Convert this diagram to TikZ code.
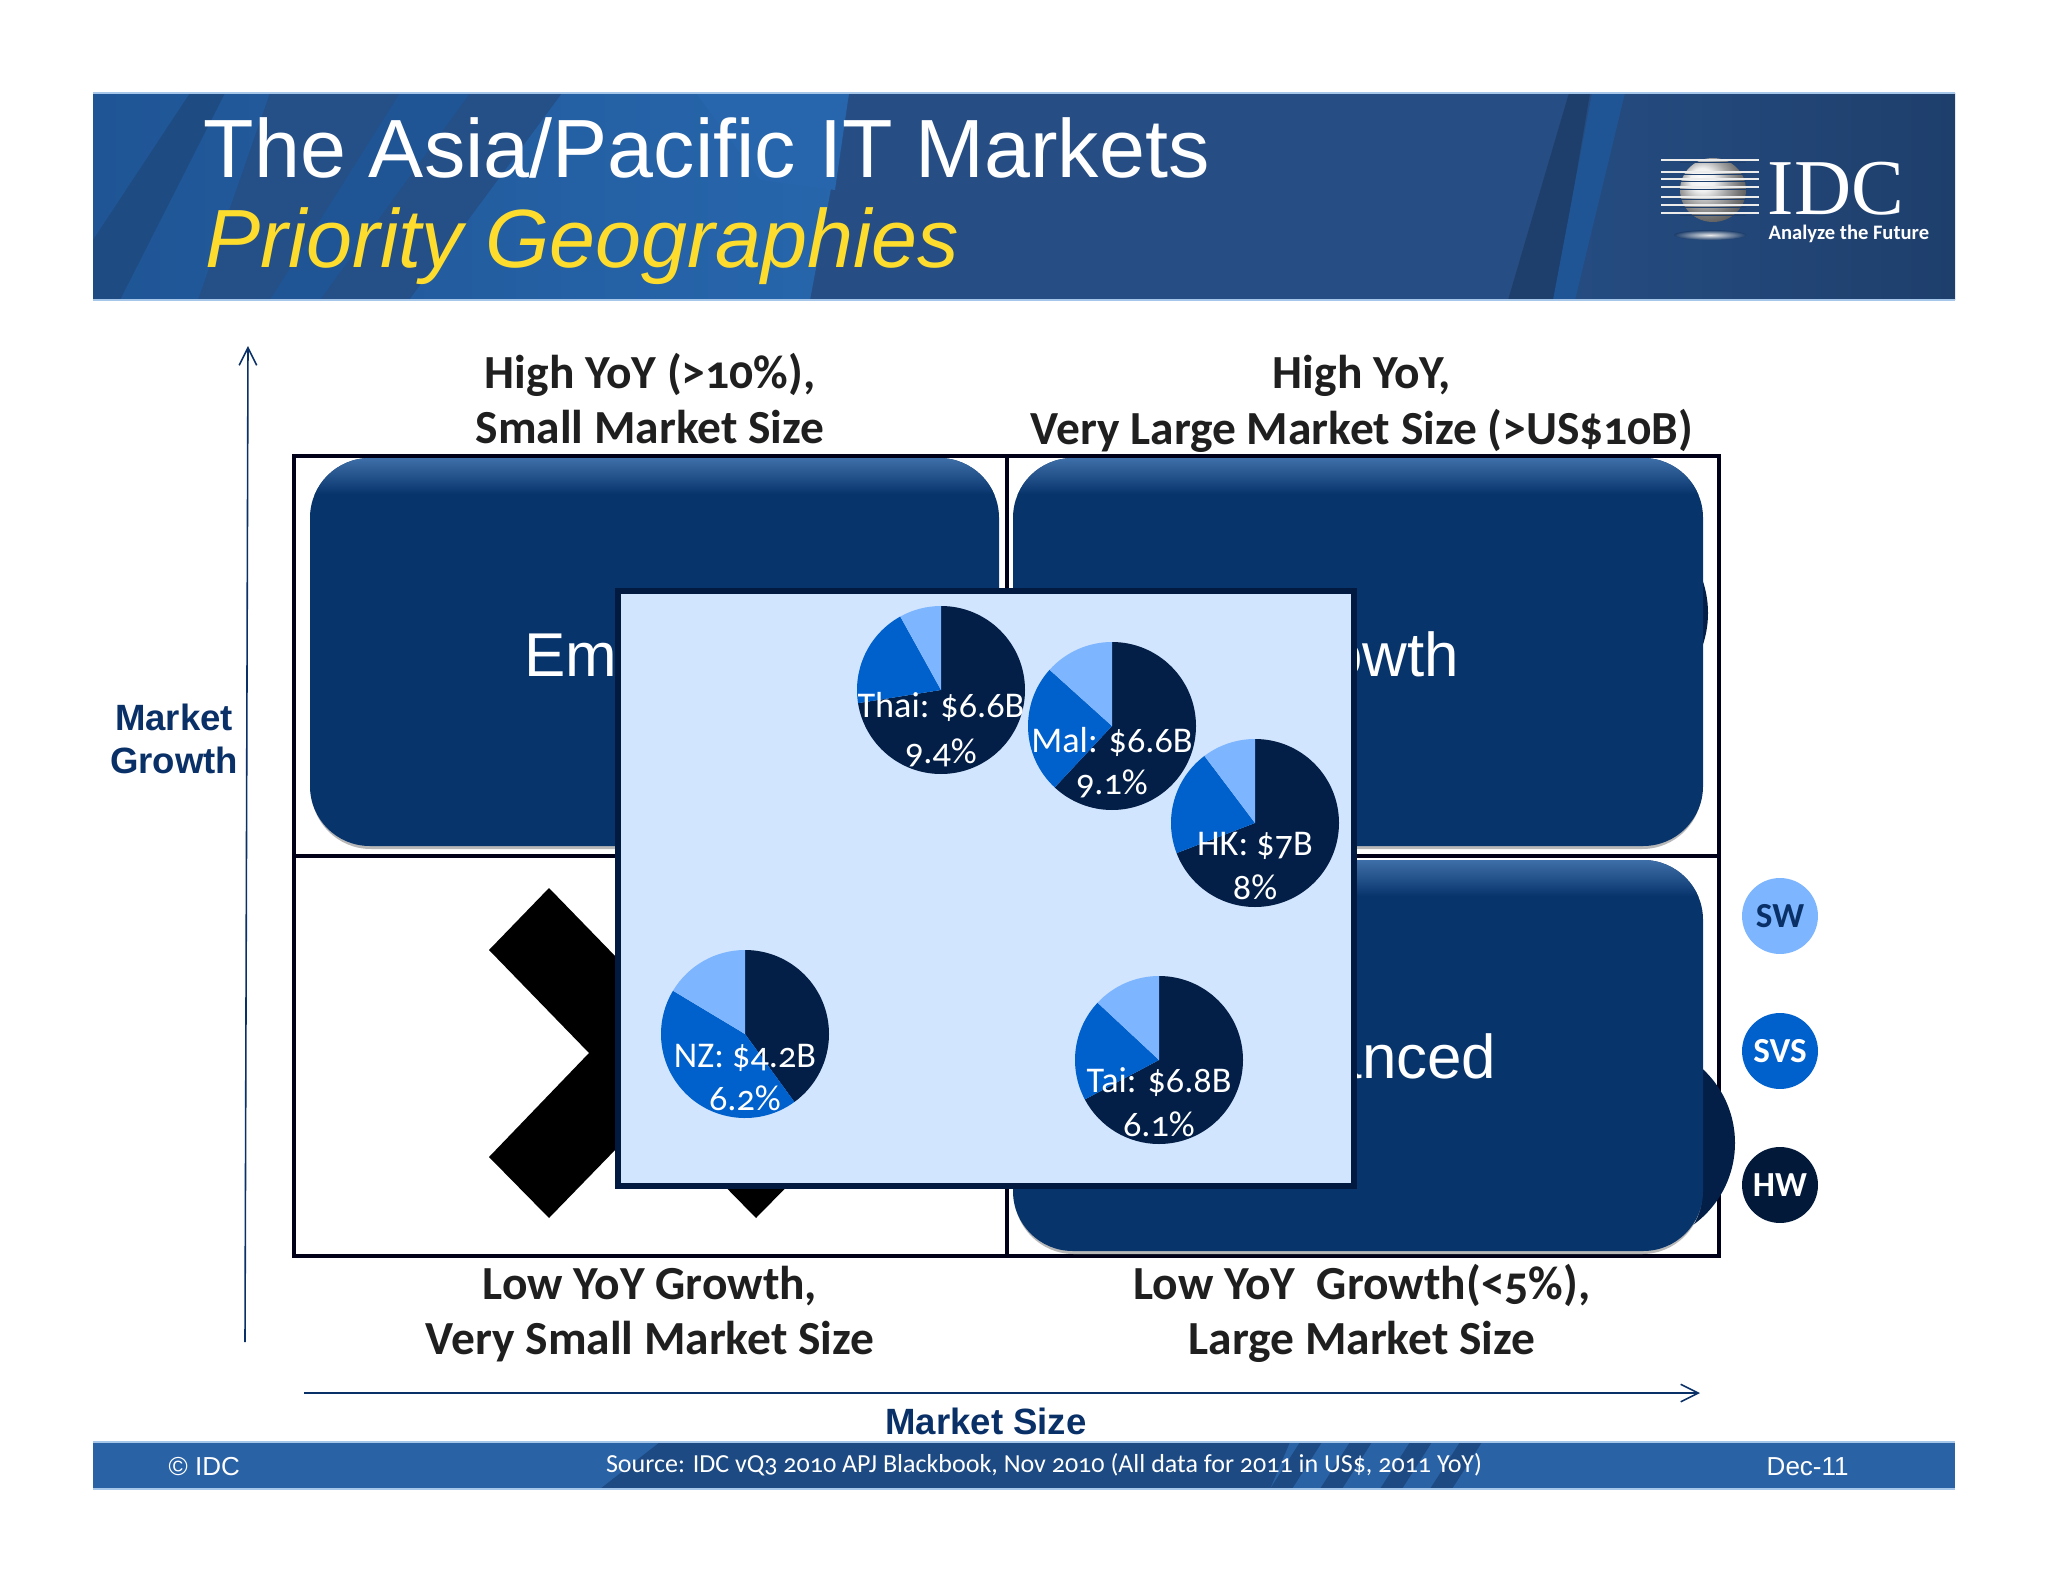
\documentclass[tikz,border=0pt]{standalone}
\usepackage{fontspec}
\setmainfont{Liberation Sans}
\newfontfamily\lblfont[Numbers=OldStyle]{Carlito}
\usetikzlibrary{arrows.meta}

\definecolor{navy}{HTML}{0A3068}
\definecolor{boxfill}{HTML}{08346C}
\definecolor{boxtop}{HTML}{3F6FA8}
\definecolor{piedark}{HTML}{031F47}
\definecolor{piemid}{HTML}{0060CC}
\definecolor{pielight}{HTML}{7DB5FF}
\definecolor{panelfill}{HTML}{D2E5FE}
\definecolor{panelline}{HTML}{021A3F}
\definecolor{bandbase}{HTML}{264E84}
\definecolor{bandbright}{HTML}{1F5595}
\definecolor{bandglow}{HTML}{2766AC}
\definecolor{banddark}{HTML}{1E3F6C}
\definecolor{bandfoot}{HTML}{2A62A6}
\definecolor{footdark}{HTML}{1D4A82}
\definecolor{titleyellow}{HTML}{FDDC2E}
\definecolor{bandedge}{HTML}{A6C6EA}

\tikzset{
	titletext/.style={inner sep=0, anchor=base west, text=white, font=\fontsize{23.5}{28}\selectfont},
	headtext/.style={inner sep=0, anchor=base, text=black!88, font=\lblfont\bfseries\fontsize{13.5}{16}\selectfont},
	bigtext/.style={inner sep=0, text=white, font=\fontsize{17.6}{21}\selectfont},
	axistext/.style={inner sep=0, text=navy, align=center, font=\bfseries\fontsize{10.4}{12.2}\selectfont},
	pietext/.style={inner sep=0, anchor=base, text=white, font=\lblfont\fontsize{10.3}{12}\selectfont},
	foottext/.style={inner sep=0, anchor=base, text=white, font=\fontsize{7.4}{9}\selectfont},
	keydot/.style={circle, minimum size=21.6pt, inner sep=0, font=\lblfont\bfseries\fontsize{10}{12}\selectfont},
	axisline/.style={navy, line width=0.45pt},
	gridline/.style={black!90!blue, line width=1pt},
}

\begin{document}
\begin{tikzpicture}[x=0.01cm, y=-0.01cm, >={Straight Barb[length=5pt,width=5pt]}]
	\useasboundingbox (0,0) rectangle (2048,1582);

	% header band
	\fill[bandbase] (93,93) rectangle (1955,300);
	\shade[left color=bandbright, right color=bandglow] (93,93) -- (849,93) -- (810,300) -- (93,300) -- cycle;
	\fill[bandbase!80!bandbright] (270,93) -- (562,93) -- (409,300) -- (198,300) -- cycle;
	\fill[bandbright] (400,93) -- (470,93) -- (320,300) -- (270,300) -- cycle;
	\fill[bandglow] (696,93) -- (849,93) -- (835,190) -- (760,180) -- cycle;
	\fill[banddark!45!bandbright] (93,240) -- (190,93) -- (225,93) -- (120,300) -- (93,300) -- cycle;
	\shade[left color=bandbase, right color=banddark] (1569,93) -- (1955,93) -- (1955,300) -- (1508,300) -- cycle;
	\fill[banddark] (1569,93) -- (1590,93) -- (1555,300) -- (1508,300) -- cycle;
	\fill[bandbright] (1592,93) -- (1625,93) -- (1575,300) -- (1553,300) -- cycle;
	\draw[bandedge, line width=0.3pt] (93,93) -- (1955,93) (93,300) -- (1955,300);

	\node[titletext] (title) at (203,178) {The Asia/Pacific IT Markets};
	\node[titletext, text=titleyellow, font=\itshape\fontsize{23.5}{28}\selectfont] (subtitle) at (205,268) {Priority Geographies};

	% logo
	\shade[ball color=white!85!gray] (1713,190) ellipse[x radius=33, y radius=32];
	\foreach \ly in {160,172,179,187,197,205,213} {
		\draw[banddark, line width=0.5pt] (1680,\ly+2.5) -- (1746,\ly+2.5);
		\draw[white!85!gray, line width=0.35pt] (1661,\ly) -- (1759,\ly);
	}
	\shade[inner color=white!85!gray, outer color=banddark] (1710,235) ellipse[x radius=36, y radius=5];
	\node[inner sep=0, anchor=base west, text=white, text depth=0pt, font=\fontspec{Liberation Serif}\fontsize{22.5}{26}\selectfont] (idc) at (1767,215) {IDC};
	\node[inner sep=0, anchor=base west, text=white, font=\lblfont\bfseries\fontsize{5.85}{7}\selectfont] (future) at (1768,240) {Analyze the Future};

	% axes
	\coordinate (ybase) at (245,1342);
	\coordinate (ytip) at (248,346);
	\coordinate (xbase) at (304,1393);
	\coordinate (xtip) at (1700,1393);
	\draw[axisline, ->] (ybase) -- (ytip);
	\draw[axisline, ->] (xbase) -- (xtip);
	\node[axistext] (ylabel) at (174,739) {Market\\Growth};
	\node[axistext] (xlabel) at (986,1421) {Market Size};

	% quadrant headings
	\node[headtext] (hightl) at (650,388) {High YoY (>10\%),};
	\node[headtext] (smalltl) at (650,443) {Small Market Size};
	\node[headtext] (hightr) at (1362,388) {High YoY,};
	\node[headtext] (largetr) at (1362,444) {Very Large Market Size (>US\$10B)};
	\node[headtext] (lowbl) at (650,1299) {Low YoY Growth,};
	\node[headtext] (smallbl) at (650,1354) {Very Small Market Size};
	\node[headtext] (lowbr) at (1362,1299) {Low YoY~ Growth(<5\%),};
	\node[headtext] (largebr) at (1362,1354) {Large Market Size};

	% quadrants
	\draw[gridline] (294,456) rectangle (1719,1256);
	\draw[gridline] (1007,456) -- (1007,1256);
	\draw[gridline] (294,856) -- (1719,856);

	% big pies behind the boxes
	\fill[piedark] (1607,613) circle[radius=101];
	\fill[piedark] (1634,1143) circle[radius=101];

	\foreach \xa/\ya/\xb/\yb in {310/458/999/846, 1013/458/1703/846, 1013/860/1703/1251} {
		\fill[black!28, rounded corners=17pt] (\xa+1,\ya+4) rectangle (\xb-1,\yb+3);
		\fill[boxfill, rounded corners=17pt] (\xa,\ya) rectangle (\xb,\yb);
		\begin{scope}
			\clip[rounded corners=17pt] (\xa,\ya) rectangle (\xb,\yb);
			\shade[top color=boxtop, bottom color=boxfill] (\xa,\ya) rectangle (\xb,\ya+36);
		\end{scope}
	}
	\fill[black] (549,888) -- (652,994) -- (756,888) -- (816,950) -- (716,1053) -- (816,1157)
		-- (756,1218) -- (652,1112) -- (549,1218) -- (489,1157) -- (589,1053) -- (489,950) -- cycle;

	\node[bigtext, anchor=base west] (emtext) at (524,676) {Em};
	\node[bigtext, anchor=base east] (wthtext) at (1460,676) {owth};
	\node[bigtext, anchor=base east] (ancedtext) at (1497,1078) {anced};

	% panel with the pies
	\draw[panelline, fill=panelfill, line width=1.6pt] (618,591) rectangle (1354,1186);

	\def\pr{84}
	\foreach \pn/\cx/\cy/\pa/\pb/\oa/\ob/\la/\lb in {
		thai/941/690/261/331/27/73/{Thai: \$6.6B}/{9.4\%},
		mal/1112/726/223/312/26/68/{Mal: \$6.6B}/{9.1\%},
		hk/1255/823/249/323/32/76/{HK: \$7B}/{8\%},
		nz/745/1034/144/301/33/76/{NZ: \$4.2B}/{6.2\%},
		tai/1159/1060/242/313/32/76/{Tai: \$6.8B}/{6.1\%}} {
		\fill[piedark] (\cx,\cy) -- ++(-90:\pr) arc[start angle=-90, end angle=-90+\pa, radius=\pr] -- cycle;
		\fill[piemid] (\cx,\cy) -- ++(-90+\pa:\pr) arc[start angle=-90+\pa, end angle=-90+\pb, radius=\pr] -- cycle;
		\fill[pielight] (\cx,\cy) -- ++(-90+\pb:\pr) arc[start angle=-90+\pb, end angle=270, radius=\pr] -- cycle;
		\node[pietext] (\pn name) at (\cx,\cy+\oa) {\la};
		\node[pietext] (\pn rate) at (\cx,\cy+\ob) {\lb};
	}

	% legend
	\node[keydot, fill=pielight, text=navy] (sw) at (1780,916) {SW};
	\node[keydot, fill=piemid, text=white] (svs) at (1780,1051) {SVS};
	\node[keydot, fill=piedark!80!black, text=white] (hw) at (1780,1185) {HW};

	% footer band
	\fill[bandfoot] (93,1442) rectangle (1955,1489);
	\fill[footdark] (600,1489) -- (660,1442) -- (1290,1442) -- (1270,1489) -- cycle;
	\foreach \fx in {1300,1350,1410,1460} {
		\fill[footdark] (\fx,1442) -- (\fx+22,1442) -- (\fx-8,1489) -- (\fx-30,1489) -- cycle;
	}
	\draw[bandedge, line width=0.3pt] (93,1442) -- (1955,1442) (93,1489) -- (1955,1489);
	\node[foottext, anchor=base west] (copy) at (168,1475) {© IDC};
	\node[foottext, font=\lblfont\fontsize{7.4}{9}\selectfont] (source) at (1044,1472) {Source: IDC vQ3 2010 APJ Blackbook, Nov 2010 (All data for 2011 in US\$, 2011 YoY)};
	\node[foottext, anchor=base west] (date) at (1766,1475) {Dec-11};
\end{tikzpicture}
\end{document}
